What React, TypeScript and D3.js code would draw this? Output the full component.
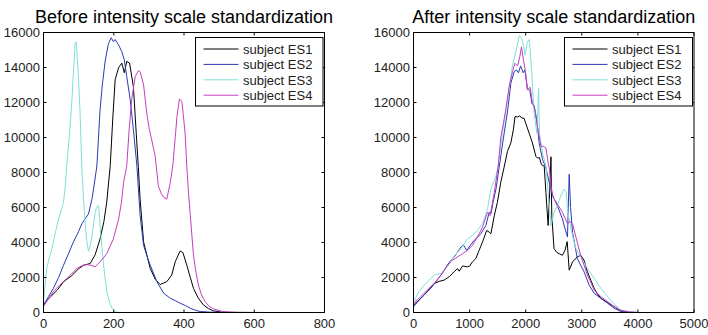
import React from "react";
import * as d3 from "d3";

// [intensity, count] pairs
const beforeES1: [number, number][] = [
  [0, 480], [20, 900], [40, 1300], [57, 1760], [80, 2100], [100, 2500], [114, 2700], [133, 2800],
  [147, 3300], [161, 4200], [172, 5200], [180, 6300], [190, 8400], [197, 11000], [204, 13300],
  [214, 14000], [223, 14250], [230, 13700], [237, 14350], [245, 14250], [256, 12900], [264, 10250],
  [270, 8300], [275, 6480], [285, 4025], [304, 2510], [318, 1900], [332, 1600], [351, 1760],
  [365, 2140], [375, 2900], [389, 3520], [397, 3420], [408, 2700], [418, 2000], [427, 1380],
  [440, 850], [455, 435], [470, 220], [484, 95], [503, 30], [530, 10], [600, 0],
];
const beforeES2: [number, number][] = [
  [0, 400], [14, 900], [28, 1380], [43, 2000], [57, 2700], [71, 3350], [85, 4025], [100, 4630],
  [109, 5065], [120, 5400], [128, 5630], [138, 6480], [145, 7400], [152, 8370], [161, 11580],
  [168, 13100], [176, 14430], [185, 15370], [193, 15700], [199, 15470], [204, 15600], [214, 15280],
  [223, 14900], [230, 14430], [237, 13480], [247, 12150], [256, 10440], [266, 8360], [275, 5540],
  [285, 3840], [295, 3200], [304, 2700], [323, 1760], [342, 1100], [361, 810], [375, 680],
  [389, 530], [404, 400], [418, 245], [432, 130], [446, 55], [475, 20], [520, 5], [560, 0],
];
const beforeES3: [number, number][] = [
  [0, 600], [4, 1500], [9, 2500], [16, 3100], [24, 3650], [33, 4500], [43, 5350], [50, 5800],
  [57, 6300], [62, 7200], [66, 8370], [74, 10200], [81, 12150], [86, 14000], [90, 15370],
  [93, 15470], [98, 14050], [104, 11500], [109, 8360], [114, 6500], [119, 4970], [124, 4000],
  [128, 3500], [133, 3800], [138, 4400], [143, 5100], [147, 5730], [152, 6050], [157, 6100],
  [161, 4970], [166, 3800], [171, 2700], [176, 1900], [180, 1190], [188, 600], [195, 245],
  [204, 40], [215, 0], [237, 0],
];
const beforeES4: [number, number][] = [
  [0, 350], [14, 780], [28, 1190], [45, 1550], [62, 1850], [79, 2200], [95, 2510], [110, 2680],
  [123, 2740], [135, 2700], [147, 2610], [161, 2890], [180, 3360], [199, 4210], [214, 5350],
  [222, 6300], [228, 7430], [237, 8370], [244, 10500], [251, 12150], [261, 13480], [270, 13820],
  [275, 13760], [285, 13000], [294, 11390], [301, 10500], [308, 9870], [318, 8930], [327, 7240],
  [335, 6800], [342, 6580], [351, 6480], [361, 7430], [368, 8370], [375, 10000], [380, 11200],
  [387, 12200], [394, 12060], [398, 11300], [403, 10260], [408, 8370], [413, 6800], [418, 5540],
  [427, 3270], [434, 2300], [441, 1570], [450, 1000], [460, 620], [472, 350], [484, 210],
  [512, 40], [550, 5], [655, 0],
];

const afterES1: [number, number][] = [
  [0, 430], [95, 700], [190, 1000], [280, 1350], [370, 1660], [460, 1780], [545, 1850], [635, 2040],
  [725, 2330], [785, 2510], [815, 2360], [875, 2660], [960, 2610], [1000, 2650], [1050, 2890],
  [1110, 3080], [1170, 3550], [1230, 4030], [1305, 4690], [1350, 4590], [1380, 4500], [1440, 5540],
  [1495, 6290], [1555, 7430], [1615, 8300], [1675, 9210], [1735, 9690], [1780, 10440],
  [1810, 11200], [1855, 11170], [1895, 11240], [1930, 11110], [1970, 11100], [2000, 10820],
  [2060, 10260], [2120, 9690], [2180, 8930], [2210, 8830], [2245, 8850], [2280, 8450],
  [2330, 8360], [2360, 6860], [2400, 4970], [2430, 7000], [2450, 8900], [2465, 5540],
  [2505, 3650], [2550, 3450], [2595, 3360], [2655, 3270], [2700, 3550], [2740, 4050],
  [2775, 2420], [2835, 2890], [2920, 3180], [2980, 3270], [3040, 2990], [3100, 2330],
  [3160, 1850], [3220, 1380], [3280, 1050], [3340, 810], [3460, 570], [3575, 340], [3695, 95],
  [3870, 15], [4000, 0], [5000, 0],
];
const afterES2: [number, number][] = [
  [0, 340], [65, 570], [130, 810], [220, 1100], [310, 1380], [400, 1760], [490, 2140], [545, 2400],
  [600, 2700], [660, 2950], [725, 3180], [785, 3450], [845, 3740], [890, 3870], [920, 3700],
  [950, 3550], [990, 3740], [1080, 4120], [1140, 4300], [1200, 4500], [1290, 4970], [1350, 5730],
  [1380, 5630], [1420, 6300], [1470, 7050], [1530, 8370], [1590, 9690], [1680, 11580],
  [1735, 13100], [1795, 13760], [1835, 13860], [1870, 13700], [1910, 14090], [1955, 13700],
  [1985, 13860], [2030, 12810], [2075, 12680], [2110, 11960], [2150, 11810], [2200, 10920],
  [2240, 9690], [2300, 8740], [2360, 8260], [2420, 7430], [2480, 6670], [2565, 6100],
  [2655, 5350], [2700, 4800], [2745, 4310], [2775, 7900], [2800, 6000], [2835, 4590],
  [2920, 3080], [3040, 2330], [3130, 1570], [3220, 1100], [3340, 810], [3460, 530], [3575, 245],
  [3695, 57], [3870, 10], [4000, 0], [5000, 0],
];
const afterES3: [number, number][] = [
  [0, 620], [100, 1190], [190, 1570], [280, 1850], [370, 2140], [490, 2230], [605, 2610],
  [725, 3230], [845, 3650], [960, 4210], [1050, 4400], [1140, 4690], [1230, 5070], [1320, 5920],
  [1380, 7050], [1470, 7800], [1510, 8370], [1585, 10250], [1675, 12150], [1765, 14140],
  [1825, 14900], [1885, 15810], [1915, 15720], [1955, 15370], [1990, 14710], [2030, 15470],
  [2065, 15600], [2105, 13860], [2150, 11390], [2200, 10250], [2230, 12810], [2245, 10250],
  [2300, 9120], [2360, 8360], [2400, 6860], [2450, 4970], [2505, 5730], [2565, 6100],
  [2625, 6670], [2685, 7050], [2720, 6900], [2760, 5540], [2835, 4400], [2895, 3650],
  [2980, 3180], [3100, 2510], [3220, 1950], [3340, 1380], [3460, 910], [3575, 470], [3695, 150],
  [3870, 40], [4000, 0], [5000, 0],
];
const afterES4: [number, number][] = [
  [0, 530], [130, 910], [250, 1290], [370, 1660], [490, 2140], [605, 2700], [695, 2990],
  [785, 3180], [875, 3360], [960, 3550], [1050, 3840], [1140, 4310], [1230, 4880], [1320, 5730],
  [1365, 5540], [1440, 6860], [1510, 8370], [1555, 9970], [1645, 11580], [1705, 12910],
  [1765, 13760], [1805, 14240], [1855, 14090], [1895, 14620], [1925, 15180], [1960, 14430],
  [2000, 13670], [2030, 12720], [2080, 12870], [2120, 11960], [2160, 11680], [2210, 10630],
  [2270, 9500], [2315, 9500], [2360, 9400], [2400, 8550], [2425, 8170], [2450, 7240],
  [2490, 6580], [2565, 6200], [2655, 5730], [2745, 5070], [2790, 5200], [2835, 5070],
  [2895, 4310], [2980, 3270], [3100, 2140], [3220, 1290], [3340, 910], [3460, 620], [3575, 340],
  [3695, 115], [3870, 20], [4000, 0], [5000, 0],
];

const seriesNames = ["subject ES1", "subject ES2", "subject ES3", "subject ES4"];
const seriesColors = ["#000000", "#2a3ab4", "#7fe0d8", "#c43ec0"];
const yTicks = [0, 2000, 4000, 6000, 8000, 10000, 12000, 14000, 16000];
const beforeXTicks = [0, 200, 400, 600, 800];
const afterXTicks = [0, 1000, 2000, 3000, 4000, 5000];

const FONT = "'Liberation Sans', Arial, sans-serif";

type PanelProps = {
  title: string;
  left: number;
  right: number;
  xMax: number;
  xTicks: number[];
  series: [number, number][][];
  legendLeft: number;
};

const Panel = ({ title, left, right, xMax, xTicks, series, legendLeft }: PanelProps) => {
  const top = 32.5;
  const bottom = 312.5;
  const tickLen = 3;

  const x = d3.scaleLinear().domain([0, xMax]).range([left, right]);
  const y = d3.scaleLinear().domain([0, 16000]).range([bottom, top]);
  const line = d3
    .line<[number, number]>()
    .x((d) => x(d[0]))
    .y((d) => y(d[1]));

  const legendTop = 37.5;
  const legendRight = right - 1.5;

  return (
    <g>
      <text
        x={(left + right) / 2}
        y={22.5}
        textAnchor="middle"
        fontSize={18}
        fontFamily={FONT}
        fill="#000"
      >
        {title}
      </text>

      {series.map((s, i) => (
        <path
          key={i}
          d={line(s) ?? ""}
          fill="none"
          stroke={seriesColors[i]}
          strokeWidth={1}
          strokeLinejoin="round"
        />
      ))}

      {/* box and inward ticks */}
      <rect
        x={left}
        y={top}
        width={right - left}
        height={bottom - top}
        fill="none"
        stroke="#000"
        strokeWidth={1}
      />
      {xTicks.map((t) => (
        <g key={"x" + t}>
          <line x1={x(t)} x2={x(t)} y1={bottom} y2={bottom - tickLen} stroke="#000" />
          <line x1={x(t)} x2={x(t)} y1={top} y2={top + tickLen} stroke="#000" />
          <text
            x={x(t)}
            y={bottom + 15}
            textAnchor="middle"
            fontSize={13}
            fontFamily={FONT}
            fill="#222"
          >
            {t}
          </text>
        </g>
      ))}
      {yTicks.map((t) => (
        <g key={"y" + t}>
          <line x1={left} x2={left + tickLen} y1={y(t)} y2={y(t)} stroke="#000" />
          <line x1={right} x2={right - tickLen} y1={y(t)} y2={y(t)} stroke="#000" />
          <text
            x={left - 3.5}
            y={y(t) + 4.7}
            textAnchor="end"
            fontSize={13}
            fontFamily={FONT}
            fill="#222"
          >
            {t}
          </text>
        </g>
      ))}

      {/* legend */}
      <rect
        x={legendLeft}
        y={legendTop}
        width={legendRight - legendLeft}
        height={106 - legendTop}
        fill="#fff"
        stroke="#000"
        strokeWidth={1}
      />
      {seriesNames.map((name, i) => {
        const ly = 49 + i * 15.4;
        return (
          <g key={name}>
            <line
              x1={legendLeft + 8}
              x2={legendLeft + 43}
              y1={ly}
              y2={ly}
              stroke={seriesColors[i]}
              strokeWidth={1}
            />
            <text
              x={legendLeft + 47.5}
              y={ly + 4.7}
              fontSize={13}
              fontFamily={FONT}
              fill="#222"
            >
              {name}
            </text>
          </g>
        );
      })}
    </g>
  );
};

const App = () => {
  return (
    <div style={{ position: "absolute", left: 0, top: 0 }}>
      <svg width={708} height={335} style={{ display: "block", background: "#fff" }}>
        <Panel
          title="Before intensity scale standardization"
          left={43.5}
          right={324.5}
          xMax={800}
          xTicks={beforeXTicks}
          series={[beforeES1, beforeES2, beforeES3, beforeES4]}
          legendLeft={195.5}
        />
        <Panel
          title="After intensity scale standardization"
          left={413.5}
          right={694}
          xMax={5000}
          xTicks={afterXTicks}
          series={[afterES1, afterES2, afterES3, afterES4]}
          legendLeft={564.5}
        />
      </svg>
    </div>
  );
};

export default App;
